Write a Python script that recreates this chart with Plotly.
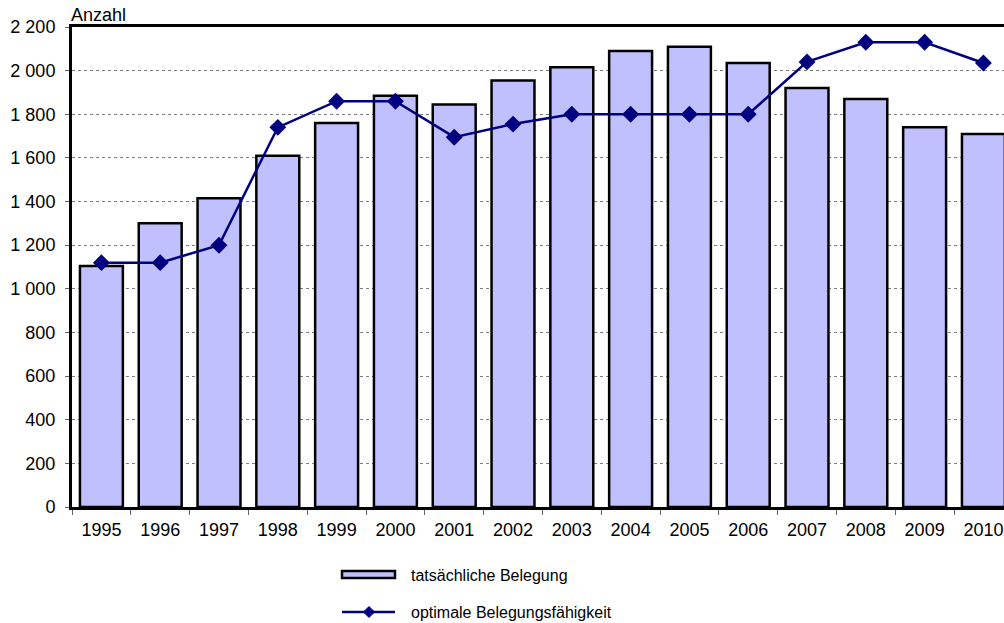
import plotly.graph_objects as go

years = ["1995", "1996", "1997", "1998", "1999", "2000", "2001", "2002",
         "2003", "2004", "2005", "2006", "2007", "2008", "2009", "2010"]
actual = [1105, 1300, 1415, 1610, 1760, 1885, 1845, 1955,
          2015, 2090, 2110, 2035, 1920, 1870, 1740, 1710]
optimal = [1120, 1120, 1200, 1740, 1860, 1860, 1695, 1755,
           1800, 1800, 1800, 1800, 2040, 2130, 2130, 2035]
y_ticks = [0, 200, 400, 600, 800, 1000, 1200, 1400, 1600, 1800, 2000, 2200]
y_labels = ["0", "200", "400", "600", "800", "1 000", "1 200", "1 400",
            "1 600", "1 800", "2 000", "2 200"]
series_names = ["tatsächliche Belegung", "optimale Belegungsfähigkeit"]

BAR_FILL = "#C0C0FF"
LINE_COL = "#000080"

fig = go.Figure()
fig.add_trace(go.Bar(
    x=years, y=actual, name=series_names[0],
    marker=dict(color=BAR_FILL, line=dict(color="black", width=2.5)),
    width=0.73,
))
fig.add_trace(go.Scatter(
    x=years, y=optimal, name=series_names[1],
    mode="lines+markers",
    line=dict(color=LINE_COL, width=2.5),
    marker=dict(symbol="diamond", size=13, color=LINE_COL),
))

W, H = 1004, 623
L, T, B = 72, 27, 116
plot_w, plot_h = W - L, H - T - B


def px(sx):
    return (sx - L) / plot_w


def py(sy):
    return (H - B - sy) / plot_h


fig.update_layout(
    width=W, height=H,
    margin=dict(l=L, r=0, t=T, b=B),
    paper_bgcolor="white", plot_bgcolor="white",
    font=dict(family="Liberation Sans, Arial, sans-serif", size=18, color="black"),
    showlegend=False,
)
fig.update_xaxes(
    type="category", range=[-0.5, 15.35],
    showline=True, linecolor="black", linewidth=2.5, mirror=True,
    ticks="outside", tickson="boundaries", ticklen=5, tickcolor="#666",
    showgrid=False, tickfont=dict(size=18), ticklabelstandoff=5,
)
fig.update_yaxes(
    range=[0, 2200], tickvals=y_ticks, ticktext=y_labels,
    showline=True, linecolor="black", linewidth=3,
    ticks="outside", ticklen=4, tickcolor="#666",
    showgrid=True, gridcolor="#808080", griddash="dot", gridwidth=1,
    zeroline=False, tickfont=dict(size=18), ticklabelstandoff=6,
)
fig.add_annotation(text="Anzahl", x=0, y=1, xref="paper", yref="paper",
                   xanchor="left", yanchor="bottom", showarrow=False,
                   xshift=-3, yshift=0, font=dict(size=18))

# custom legend
fig.add_shape(type="rect", xref="paper", yref="paper",
              x0=px(342), x1=px(395), y0=py(578), y1=py(571),
              fillcolor=BAR_FILL, line=dict(color="black", width=2.5))
fig.add_shape(type="line", xref="paper", yref="paper",
              x0=px(342), x1=px(395), y0=py(612), y1=py(612),
              line=dict(color=LINE_COL, width=2.5))
cx, cy, d = 369, 612, 5.5
fig.add_shape(type="path", xref="paper", yref="paper",
              path=f"M {px(cx - d)},{py(cy)} L {px(cx)},{py(cy - d)} "
                   f"L {px(cx + d)},{py(cy)} L {px(cx)},{py(cy + d)} Z",
              fillcolor=LINE_COL, line=dict(color=LINE_COL, width=1))
for name, sy in zip(series_names, [575, 612]):
    fig.add_annotation(text=name, x=px(409), y=py(sy), xref="paper", yref="paper",
                       xanchor="left", yanchor="middle", showarrow=False,
                       font=dict(size=16))

fig.write_html(
    "out.html",
    config={"displayModeBar": False},
    post_script="document.body.style.margin='0';document.body.style.overflow='hidden';",
)
